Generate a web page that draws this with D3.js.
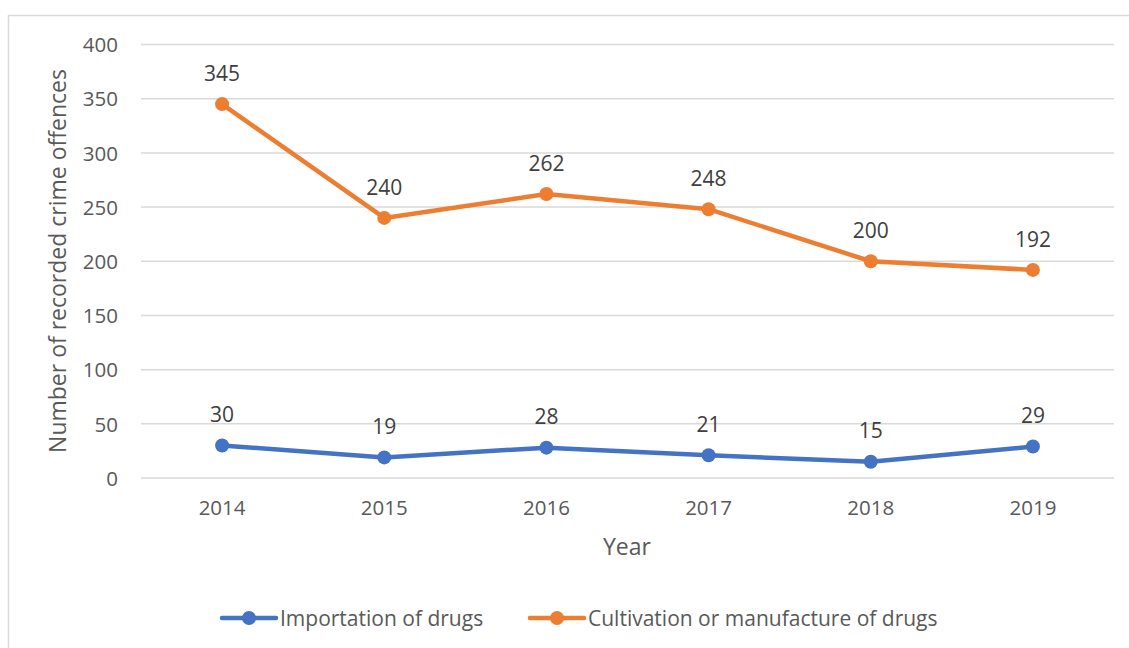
<!DOCTYPE html>
<html>
<head>
<meta charset="utf-8">
<script src="https://cdn.jsdelivr.net/npm/d3@7"></script>
<style>
  body { margin: 0; background: #fff; }
  svg text { font-family: "Open Sans", sans-serif; fill: #595959; }
</style>
</head>
<body>
<svg id="chart" width="1129" height="648"></svg>
<script>
// chart data
var years = ['2014', '2015', '2016', '2017', '2018', '2019'];
var importation = [30, 19, 28, 21, 15, 29];
var cultivation = [345, 240, 262, 248, 200, 192];
var yTicks = [0, 50, 100, 150, 200, 250, 300, 350, 400];
var seriesNames = ['Importation of drugs', 'Cultivation or manufacture of drugs'];
var seriesColors = ['#4472C4', '#ED7D31'];

var svg = d3.select('#chart');
var fontSize = 20.5;

// outer frame (runs off the right and bottom edges)
svg.append('rect')
  .attr('x', 8.5).attr('y', 15.5)
  .attr('width', 1140).attr('height', 660)
  .attr('fill', 'none').attr('stroke', '#d9d9d9').attr('stroke-width', 1.5);

var x = d3.scaleBand().domain(years).range([141, 1114]);
var y = d3.scaleLinear().domain([0, 400]).range([478, 44.5]);

// gridlines
svg.append('g').selectAll('line').data(yTicks).enter().append('line')
  .attr('x1', 141).attr('x2', 1114)
  .attr('y1', function(d) { return y(d); })
  .attr('y2', function(d) { return y(d); })
  .attr('stroke', '#d9d9d9').attr('stroke-width', 1.5);

// y axis labels
var yAxis = d3.axisLeft(y).tickValues(yTicks).tickSize(0).tickPadding(0);
var ya = svg.append('g').attr('transform', 'translate(118,0)').call(yAxis);
ya.select('.domain').remove();
ya.selectAll('text').attr('font-size', fontSize).attr('font-family', '"Open Sans", sans-serif')
  .style('fill', '#595959').attr('dy', '0.35em');

// x axis labels
var xAxis = d3.axisBottom(x).tickSize(0).tickPadding(0);
var xa = svg.append('g').attr('transform', 'translate(0,500)').call(xAxis);
xa.select('.domain').remove();
xa.selectAll('text').attr('font-size', fontSize).attr('font-family', '"Open Sans", sans-serif')
  .style('fill', '#595959').attr('dy', '0.71em');

// axis titles
svg.append('text').attr('x', 627).attr('y', 549).attr('text-anchor', 'middle')
  .attr('dominant-baseline', 'middle').attr('font-size', 23).text('Year');
svg.append('text').attr('transform', 'translate(60,261) rotate(-90)')
  .attr('text-anchor', 'middle').attr('dominant-baseline', 'middle')
  .attr('font-size', 23).text('Number of recorded crime offences');

function cx(d, i) { return x(years[i]) + x.bandwidth() / 2; }

var line = d3.line().x(cx).y(function(d) { return y(d); });

[importation, cultivation].forEach(function(vals, s) {
  var g = svg.append('g');
  g.append('path').datum(vals).attr('d', line)
    .attr('fill', 'none').attr('stroke', seriesColors[s])
    .attr('stroke-width', 4.5).attr('stroke-linejoin', 'round').attr('stroke-linecap', 'round');
  g.selectAll('circle').data(vals).enter().append('circle')
    .attr('cx', cx).attr('cy', function(d) { return y(d); })
    .attr('r', 7).attr('fill', seriesColors[s]);
  g.selectAll('text').data(vals).enter().append('text')
    .attr('x', cx).attr('y', function(d) { return y(d) - 29; })
    .attr('text-anchor', 'middle').attr('dominant-baseline', 'middle')
    .attr('font-size', 21).style('fill', '#404040').text(function(d) { return d; });
});

// legend
var legendX = [222, 530];
seriesNames.forEach(function(name, s) {
  var lg = svg.append('g').attr('transform', 'translate(' + legendX[s] + ',618)');
  lg.append('line').attr('x1', 0).attr('x2', 54).attr('y1', 0).attr('y2', 0)
    .attr('stroke', seriesColors[s]).attr('stroke-width', 4.5).attr('stroke-linecap', 'round');
  lg.append('circle').attr('cx', 27).attr('cy', 0).attr('r', 7).attr('fill', seriesColors[s]);
  lg.append('text').attr('x', 58).attr('y', 2).attr('dominant-baseline', 'middle')
    .attr('font-size', 21).text(name);
});
</script>
</body>
</html>
